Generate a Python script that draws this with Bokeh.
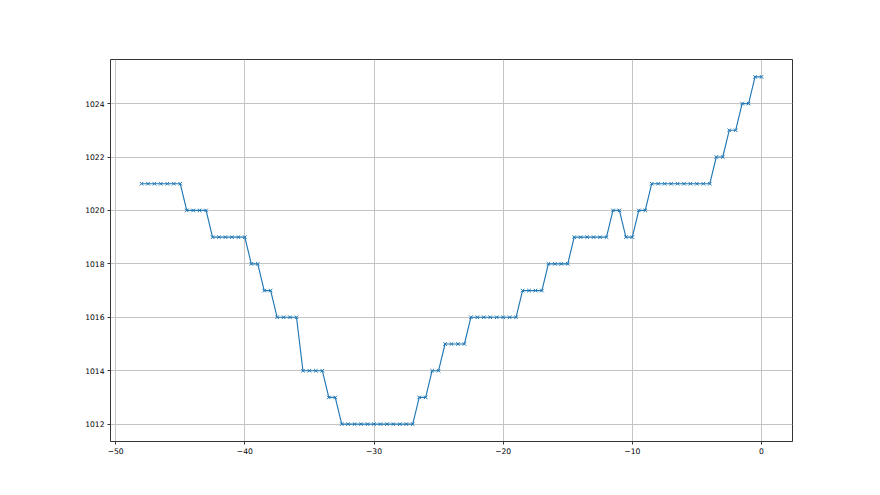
from bokeh.plotting import figure
from bokeh.models import Range1d, FixedTicker
from bokeh.embed import file_html
from bokeh.resources import INLINE

# data
x_vals = [-48.0, -47.5, -47.0, -46.5, -46.0, -45.5, -45.0, -44.5, -44.0, -43.5,
          -43.0, -42.5, -42.0, -41.5, -41.0, -40.5, -40.0, -39.5, -39.0, -38.5,
          -38.0, -37.5, -37.0, -36.5, -36.0, -35.5, -35.0, -34.5, -34.0, -33.5,
          -33.0, -32.5, -32.0, -31.5, -31.0, -30.5, -30.0, -29.5, -29.0, -28.5,
          -28.0, -27.5, -27.0, -26.5, -26.0, -25.5, -25.0, -24.5, -24.0, -23.5,
          -23.0, -22.5, -22.0, -21.5, -21.0, -20.5, -20.0, -19.5, -19.0, -18.5,
          -18.0, -17.5, -17.0, -16.5, -16.0, -15.5, -15.0, -14.5, -14.0, -13.5,
          -13.0, -12.5, -12.0, -11.5, -11.0, -10.5, -10.0, -9.5, -9.0, -8.5,
          -8.0, -7.5, -7.0, -6.5, -6.0, -5.5, -5.0, -4.5, -4.0, -3.5,
          -3.0, -2.5, -2.0, -1.5, -1.0, -0.5, 0.0]
y_vals = [1021, 1021, 1021, 1021, 1021, 1021, 1021,
          1020, 1020, 1020, 1020,
          1019, 1019, 1019, 1019, 1019, 1019,
          1018, 1018,
          1017, 1017,
          1016, 1016, 1016, 1016,
          1014, 1014, 1014, 1014,
          1013, 1013,
          1012, 1012, 1012, 1012, 1012, 1012, 1012, 1012, 1012, 1012, 1012, 1012,
          1013, 1013,
          1014, 1014,
          1015, 1015, 1015, 1015,
          1016, 1016, 1016, 1016, 1016, 1016, 1016, 1016,
          1017, 1017, 1017, 1017,
          1018, 1018, 1018, 1018,
          1019, 1019, 1019, 1019, 1019, 1019,
          1020, 1020,
          1019, 1019,
          1020, 1020,
          1021, 1021, 1021, 1021, 1021, 1021, 1021, 1021, 1021, 1021,
          1022, 1022,
          1023, 1023,
          1024, 1024,
          1025, 1025]
x_ticks = [-50, -40, -30, -20, -10, 0]
y_ticks = [1012, 1014, 1016, 1018, 1020, 1022, 1024]

p = figure(output_backend="svg", toolbar_location=None,
           frame_width=682, frame_height=382,
           min_border_left=110, min_border_right=72,
           min_border_top=59, min_border_bottom=46,
           x_range=Range1d(-50.4, 2.4), y_range=Range1d(1011.35, 1025.65))

p.background_fill_color = "white"
p.border_fill_color = "white"
p.outline_line_color = "black"
p.outline_line_width = 0.8
p.outline_line_alpha = 1.0

p.line(x_vals, y_vals, line_color="#1f77b4", line_width=1.15)
p.scatter(x_vals, y_vals, marker="x", size=5, line_color="#1f77b4", line_width=1.0)

p.xaxis.ticker = FixedTicker(ticks=x_ticks)
p.yaxis.ticker = FixedTicker(ticks=y_ticks)
p.xaxis.major_label_overrides = {t: (str(t).replace("-", "\u2212")) for t in x_ticks}
p.yaxis.major_label_overrides = {t: str(t) for t in y_ticks}

for ax in (p.xaxis, p.yaxis):
    ax.axis_line_color = None
    ax.major_tick_line_color = "black"
    ax.major_tick_line_width = 0.8
    ax.major_tick_out = 3
    ax.major_tick_in = 0
    ax.minor_tick_line_color = None
    ax.major_label_text_font = "DejaVu Sans"
    ax.major_label_text_font_size = "7.6px"
    ax.major_label_text_color = "black"
    ax.major_label_standoff = 3

p.xgrid.grid_line_color = "#c4c4c4"
p.ygrid.grid_line_color = "#c4c4c4"
p.xgrid.grid_line_width = 1
p.ygrid.grid_line_width = 1

open("out.html", "w").write(file_html(p, INLINE))
